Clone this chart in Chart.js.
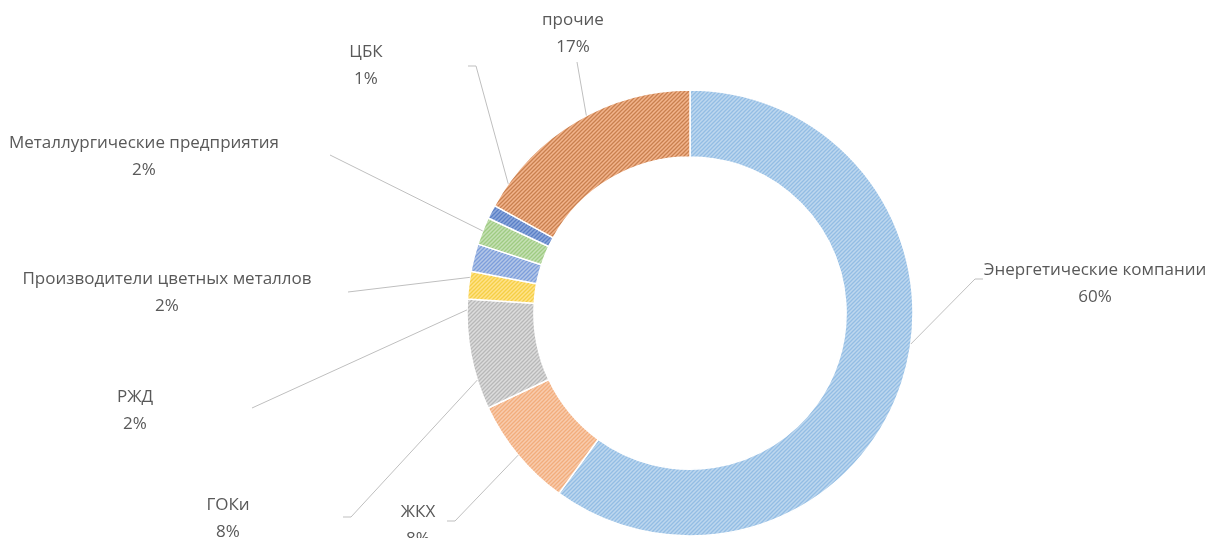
<!DOCTYPE html>
<html lang="ru">
<head>
<meta charset="utf-8">
<title>Структура потребителей</title>
<script src="https://cdn.jsdelivr.net/npm/chart.js@4.4.1/dist/chart.umd.min.js"></script>
<style>
  html, body { margin: 0; padding: 0; background: #fff; }
  #wrap { position: relative; width: 1208px; height: 538px; }
</style>
</head>
<body>
<div id="wrap"><canvas id="donut"></canvas></div>
<script>
  "use strict";

  // ============================================
  // DATA
  // ============================================
  var categories = [
    "Энергетические компании",
    "ЖКХ",
    "ГОКи",
    "РЖД",
    "Производители цветных металлов",
    "Металлургические предприятия",
    "ЦБК",
    "прочие",
  ];
  var shares = [60, 8, 8, 2, 2, 2, 1, 17];
  var shareLabels = ["60%", "8%", "8%", "2%", "2%", "2%", "1%", "17%"];

  // ============================================
  // STYLE / LAYOUT
  // ============================================
  var fillColors = ["#bdd7ee", "#f8cbad", "#dcdcdc", "#ffe28a", "#b4c7e7", "#c5e0b4", "#8faadc", "#f2b48c"];
  var lineColors = ["#93bde4", "#f2ad7c", "#b8b8b8", "#f5cf45", "#7d9edb", "#9fcb82", "#5a7fc6", "#c9804f"];

  // label text centre [x, y of first line]
  var labelPos = [[1095, 270], [418, 512], [228, 505], [135, 397], [167, 279], [144, 143], [366, 52], [573, 20]];
  // where each leader line leaves its label, short horizontal tick, angular nudge (deg)
  var leaderStart = [[983, 279], [447, 521], [343, 517], [252, 408], [348, 292], [330, 155], [468, 66], [577, 62]];
  var leaderTick = [8, 8, 8, 0, 0, 0, 8, 0];
  var anchorShift = [-10, 0, -6.7, -6.4, -5.2, 0, 8.4, 2.9];

  function hatch(bg, fg) {
    var c = document.createElement("canvas");
    c.width = 4;
    c.height = 4;
    var x = c.getContext("2d");
    x.fillStyle = bg;
    x.fillRect(0, 0, 4, 4);
    x.strokeStyle = fg;
    x.lineWidth = 1.3;
    x.beginPath();
    x.moveTo(0, 4); x.lineTo(4, 0);
    x.moveTo(-1, 1); x.lineTo(1, -1);
    x.moveTo(3, 5); x.lineTo(5, 3);
    x.stroke();
    return x.createPattern(c, "repeat");
  }

  var patterns = fillColors.map(function (bg, i) {
    return hatch(bg, lineColors[i]);
  });

  // ============================================
  // LABELS + LEADER LINES
  // ============================================
  var leaderLabels = {
    id: "leaderLabels",
    afterDatasetsDraw: function (chart) {
      var ctx = chart.ctx;
      var arcs = chart.getDatasetMeta(0).data;
      ctx.save();

      ctx.strokeStyle = "#bfbfbf";
      ctx.lineWidth = 1;
      arcs.forEach(function (arc, i) {
        var p = arc.getProps(["x", "y", "startAngle", "endAngle", "outerRadius"], true);
        var a = (p.startAngle + p.endAngle) / 2 + (anchorShift[i] * Math.PI) / 180;
        var ax = p.x + Math.cos(a) * p.outerRadius;
        var ay = p.y + Math.sin(a) * p.outerRadius;
        var sx = leaderStart[i][0];
        var sy = leaderStart[i][1];
        var dir = ax > sx ? 1 : -1;
        ctx.beginPath();
        ctx.moveTo(sx, sy);
        ctx.lineTo(sx + dir * leaderTick[i], sy);
        ctx.lineTo(ax, ay);
        ctx.stroke();
      });

      ctx.fillStyle = "#595959";
      ctx.font = "17px 'Open Sans', sans-serif";
      ctx.textAlign = "center";
      ctx.textBaseline = "middle";
      categories.forEach(function (name, i) {
        ctx.fillText(name, labelPos[i][0], labelPos[i][1]);
        ctx.fillText(shareLabels[i], labelPos[i][0], labelPos[i][1] + 27);
      });
      ctx.restore();
    },
  };

  // ============================================
  // CHART
  // ============================================
  new Chart(document.getElementById("donut"), {
    type: "doughnut",
    data: {
      labels: categories,
      datasets: [
        {
          data: shares,
          backgroundColor: patterns,
          borderColor: "#ffffff",
          borderWidth: 1.5,
        },
      ],
    },
    options: {
      responsive: true,
      maintainAspectRatio: false,
      animation: false,
      radius: 223,
      cutout: "70%",
      layout: { padding: { left: 172, right: 0, top: 90, bottom: 2 } },
      plugins: {
        legend: { display: false },
        tooltip: { enabled: false },
      },
    },
    plugins: [leaderLabels],
  });
</script>
</body>
</html>
